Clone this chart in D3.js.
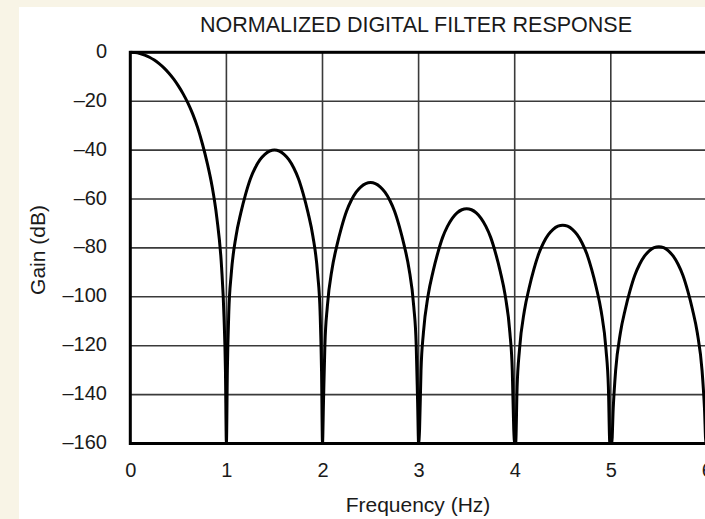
<!DOCTYPE html>
<html>
<head>
<meta charset="utf-8">
<script src="https://cdn.jsdelivr.net/npm/d3@7"></script>
<style>
  html, body { margin: 0; padding: 0; background: #f8f4e6; }
  svg { display: block; }
  text { font-family: "Liberation Sans", Arial, Helvetica, sans-serif; fill: #1a1a1a; }
</style>
</head>
<body>
<svg id="chart" width="705" height="519"></svg>
<script>
// ---- data ----
const title = "NORMALIZED DIGITAL FILTER RESPONSE";
const xLabel = "Frequency (Hz)";
const yLabel = "Gain (dB)";
const xTicks = [0, 1, 2, 3, 4, 5, 6];
const xTickLabels = ["0", "1", "2", "3", "4", "5", "6"];
const yTicks = [0, -20, -40, -60, -80, -100, -120, -140, -160];
const yTickLabels = ["0", "\u201320", "\u201340", "\u201360", "\u201380", "\u2013100", "\u2013120", "\u2013140", "\u2013160"];

const freq = [
  0, 0.05, 0.1, 0.15, 0.2, 0.25, 0.3, 0.35, 0.4, 0.45, 0.5, 0.55, 0.6, 0.65, 0.7, 0.75, 0.8, 0.85, 0.9, 0.95, 0.975, 0.99, 1,
  1.01, 1.025, 1.05, 1.1, 1.15, 1.2, 1.25, 1.3, 1.35, 1.4, 1.45, 1.5, 1.55, 1.6, 1.65, 1.7, 1.75, 1.8, 1.85, 1.9, 1.95, 1.975, 1.99, 2,
  2.01, 2.025, 2.05, 2.1, 2.15, 2.2, 2.25, 2.3, 2.35, 2.4, 2.45, 2.5, 2.55, 2.6, 2.65, 2.7, 2.75, 2.8, 2.85, 2.9, 2.95, 2.975, 2.99, 3,
  3.01, 3.025, 3.05, 3.1, 3.15, 3.2, 3.25, 3.3, 3.35, 3.4, 3.45, 3.5, 3.55, 3.6, 3.65, 3.7, 3.75, 3.8, 3.85, 3.9, 3.95, 3.975, 3.99, 4,
  4.01, 4.025, 4.05, 4.1, 4.15, 4.2, 4.25, 4.3, 4.35, 4.4, 4.45, 4.5, 4.55, 4.6, 4.65, 4.7, 4.75, 4.8, 4.85, 4.9, 4.95, 4.975, 4.99, 5,
  5.01, 5.025, 5.05, 5.1, 5.15, 5.2, 5.25, 5.3, 5.35, 5.4, 5.45, 5.5, 5.55, 5.6, 5.65, 5.7, 5.75, 5.8, 5.85, 5.9, 5.95, 5.975, 5.99, 6
];
const gain = [
  0, -0.12, -0.5, -1.13, -2.03, -3.2, -4.64, -6.39, -8.47, -10.9, -13.73, -17.0, -20.8, -25.3, -30.7, -37.4, -45.2, -54.6, -67.5, -88, -108, -130, -160,
  -130.2, -106.3, -90.8, -75.2, -65.7, -58.0, -51.7, -47.2, -43.9, -41.7, -40.4, -40.0, -40.4, -41.7, -43.9, -47.2, -51.7, -58.0, -65.7, -75.2, -90.8, -106.3, -130.2, -160,
  -143.5, -119.6, -104.1, -88.5, -79.0, -71.3, -65.0, -60.5, -57.2, -55.0, -53.7, -53.3, -53.7, -55.0, -57.2, -60.5, -65.0, -71.3, -79.0, -88.5, -104.1, -119.6, -143.5, -160,
  -154.2, -130.3, -114.8, -99.2, -89.7, -82.0, -75.7, -71.2, -67.9, -65.7, -64.4, -64.0, -64.4, -65.7, -67.9, -71.2, -75.7, -82.0, -89.7, -99.2, -114.8, -130.3, -154.2, -160,
  -160, -137.0, -121.5, -105.9, -96.4, -88.7, -82.4, -77.9, -74.6, -72.4, -71.1, -70.7, -71.1, -72.4, -74.6, -77.9, -82.4, -88.7, -96.4, -105.9, -121.5, -137.0, -160, -160,
  -160, -145.8, -130.3, -114.7, -105.2, -97.5, -91.2, -86.7, -83.4, -81.2, -79.9, -79.5, -79.9, -81.2, -83.4, -86.7, -91.2, -97.5, -105.2, -114.7, -130.3, -145.8, -160, -160
];

// ---- layout ----
const W = 705, H = 519;
const plot = { left: 130.3, top: 52.3, right: 706.9, bottom: 443.5 };

const svg = d3.select("#chart");

// white sheet on cream background
svg.append("rect").attr("x", 19).attr("y", 7).attr("width", W - 19).attr("height", H - 7).attr("fill", "#ffffff");

const x = d3.scaleLinear().domain([0, 6]).range([plot.left, plot.right]);
const y = d3.scaleLinear().domain([0, -160]).range([plot.top, plot.bottom]).clamp(true);

// grid
const grid = svg.append("g");
grid.selectAll("line.h").data(yTicks).join("line")
  .attr("x1", plot.left).attr("x2", plot.right)
  .attr("y1", d => y(d)).attr("y2", d => y(d))
  .attr("stroke", "#3a3a3a").attr("stroke-width", 1.6);
grid.selectAll("line.v").data(xTicks).join("line")
  .attr("y1", plot.top).attr("y2", plot.bottom)
  .attr("x1", d => x(d)).attr("x2", d => x(d))
  .attr("stroke", "#3a3a3a").attr("stroke-width", 1.6);

// clip for curve
svg.append("clipPath").attr("id", "clip").append("rect")
  .attr("x", plot.left).attr("y", plot.top - 2)
  .attr("width", plot.right - plot.left).attr("height", plot.bottom - plot.top + 2);

const pts = freq.map((f, i) => [f, gain[i]]);
const line = d3.line().x(d => x(d[0])).y(d => y(d[1])).curve(d3.curveMonotoneX);
svg.append("path").attr("d", line(pts))
  .attr("clip-path", "url(#clip)")
  .attr("fill", "none").attr("stroke", "#000").attr("stroke-width", 3)
  .attr("stroke-linejoin", "round");

// frame
svg.append("rect")
  .attr("x", plot.left).attr("y", plot.top)
  .attr("width", plot.right - plot.left).attr("height", plot.bottom - plot.top)
  .attr("fill", "none").attr("stroke", "#000").attr("stroke-width", 3);

// axes (labels only)
const yAxis = d3.axisLeft(y).tickValues(yTicks)
  .tickFormat((d, i) => yTickLabels[i]).tickSize(0).tickPadding(0);
const gy = svg.append("g").attr("transform", `translate(107,0)`).call(yAxis);
gy.select(".domain").remove();
gy.selectAll("text").attr("font-size", 20).attr("fill", "#1a1a1a")
  .attr("font-family", "Liberation Sans, Arial, sans-serif")
  .attr("dy", "5").attr("x", 0);

const xAxis = d3.axisBottom(x).tickValues(xTicks)
  .tickFormat((d, i) => xTickLabels[i]).tickSize(0).tickPadding(0);
const gx = svg.append("g").attr("transform", `translate(0,0)`).call(xAxis);
gx.select(".domain").remove();
gx.selectAll("text").attr("font-size", 20).attr("fill", "#1a1a1a")
  .attr("font-family", "Liberation Sans, Arial, sans-serif")
  .attr("dy", null).attr("y", 477);

// title & axis titles
svg.append("text").attr("x", 416).attr("y", 31.5).attr("text-anchor", "middle")
  .attr("font-size", 21.5).text(title);
svg.append("text").attr("x", 418).attr("y", 511.5).attr("text-anchor", "middle")
  .attr("font-size", 21).text(xLabel);
svg.append("text").attr("transform", "translate(44.5,250) rotate(-90)")
  .attr("text-anchor", "middle").attr("font-size", 21).text(yLabel);
</script>
</body>
</html>
